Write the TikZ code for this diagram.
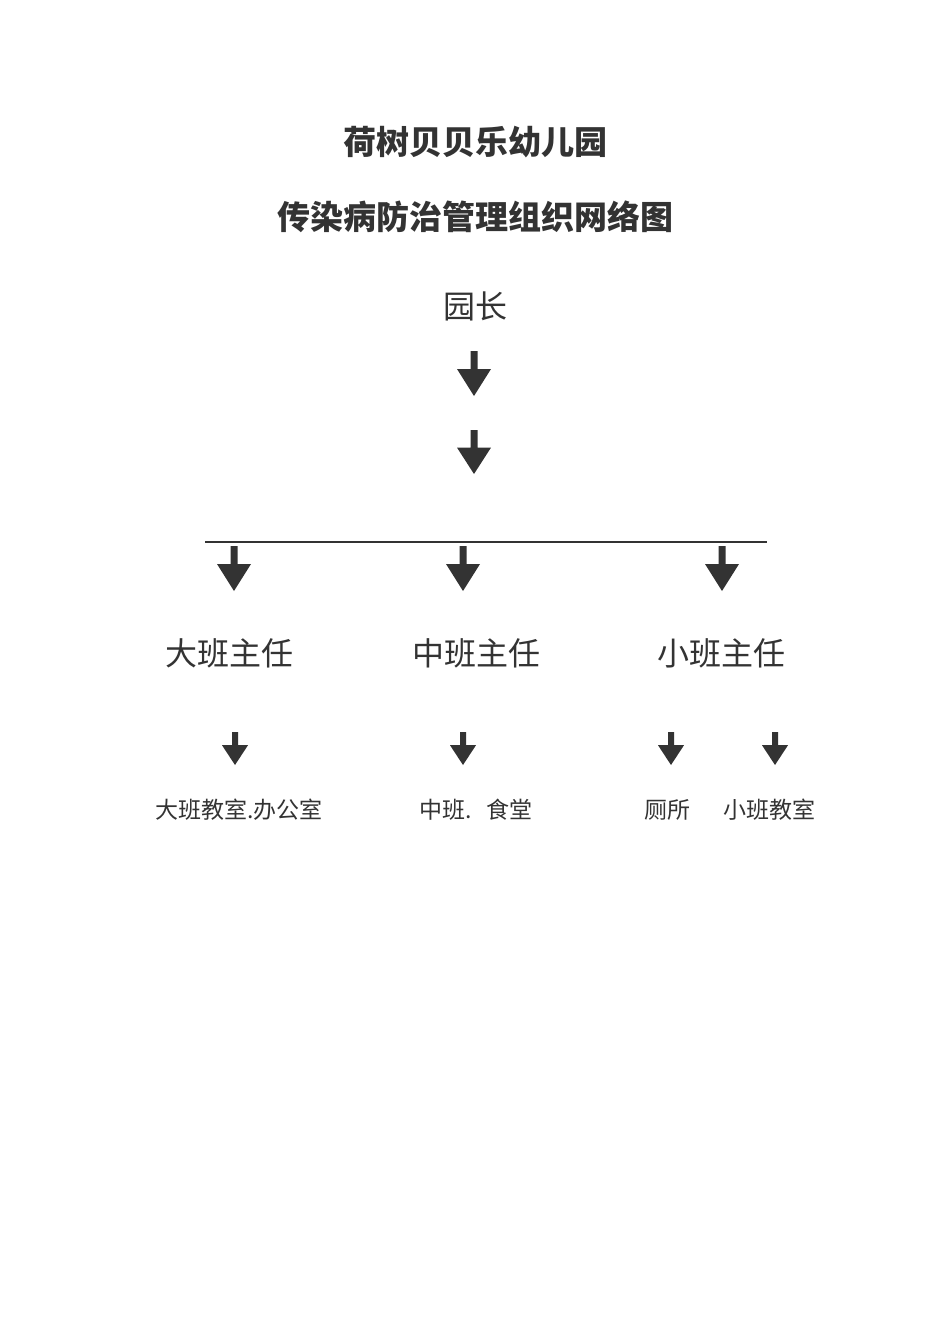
\documentclass[tikz,border=0pt]{standalone}
\usepackage{fontspec}
\newfontfamily\cjk{Noto Sans CJK SC}
\definecolor{ink}{HTML}{333333}
\newcommand{\dnarrow}[6]{% name, x, top, tip, head half width, stem half width
  \fill[ink] (#2-#6,#3) -- (#2+#6,#3) -- (#2+#6,{#4-0.6*(#4-#3)}) -- (#2+#5,{#4-0.6*(#4-#3)}) -- (#2,#4) -- (#2-#5,{#4-0.6*(#4-#3)}) -- (#2-#6,{#4-0.6*(#4-#3)}) -- cycle;
  \coordinate (#1) at (#2,#3);}
\begin{document}
\begin{tikzpicture}[x=1pt,y=-1pt,
  title/.style={font=\cjk\bfseries\fontsize{33}{36}\selectfont,text=ink},
  lvl/.style={font=\cjk\fontsize{32}{36}\selectfont,text=ink},
  leaf/.style={font=\cjk\fontsize{23}{26}\selectfont,text=ink}]
\useasboundingbox (0,0) rectangle (950,1344);
\node[title] (t1) at (475,142) {荷树贝贝乐幼儿园};
\node[title] (t2) at (475,217) {传染病防治管理组织网络图};
\node[lvl] (head) at (475,306) {园长};
\dnarrow{a1}{474}{351}{396}{17}{3.5}
\dnarrow{a2}{474}{430}{474}{17}{3.5}
\coordinate (l) at (205,542); \coordinate (r) at (767,542);
\draw[ink,line width=1.5pt] (l) -- (r);
\dnarrow{b1}{234}{546}{591}{17}{3.5}
\dnarrow{b2}{463}{546}{591}{17}{3.5}
\dnarrow{b3}{722}{546}{591}{17}{3.5}
\node[lvl] (big) at (229,653) {大班主任};
\node[lvl] (mid) at (476,653) {中班主任};
\node[lvl] (small) at (721,653) {小班主任};
\dnarrow{c1}{235}{732}{765}{13}{3}
\dnarrow{c2}{463}{732}{765}{13}{3}
\dnarrow{c3}{671}{732}{765}{13}{3}
\dnarrow{c4}{775}{732}{765}{13}{3}
\node[leaf] (d1) at (239,810) {大班教室.办公室};
\node[leaf] (d2) at (476,810) {中班.\hspace{0.6em}食堂};
\node[leaf] (d3) at (667,810) {厕所};
\node[leaf] (d4) at (769,810) {小班教室};
\end{tikzpicture}
\end{document}
